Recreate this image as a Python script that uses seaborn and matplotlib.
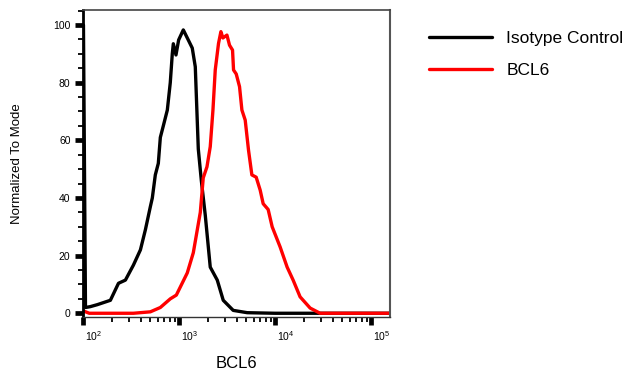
import numpy as np
import pandas as pd
import matplotlib
matplotlib.use("Agg")
import matplotlib.pyplot as plt
import matplotlib.ticker as mticker
from matplotlib.transforms import ScaledTranslation
import seaborn as sns

# =========================
# Data (read off the histogram overlay)
# =========================
iso_x = [100, 105, 118, 140, 191, 232, 274, 332, 393, 443, 499, 523, 562,
         604, 634, 681, 750, 805, 845, 866, 923, 984, 1101, 1241, 1365,
         1468, 1578, 1698, 1866, 2103, 2489, 2873, 3651, 5106, 10000, 157700]
iso_y = [100, 2, 2.3, 3, 4.5, 10.4, 11.5, 16.7, 22, 29, 37, 40, 48,
         52, 61, 65, 70.5, 80, 90, 93.5, 89.6, 94.8, 98.3, 94.8, 92,
         85.5, 57, 46, 34, 16, 11.5, 4.5, 1, 0.2, 0, 0]

bcl6_x = [100, 115, 332, 499, 634, 805, 931, 1211, 1400, 1656, 1778, 1943,
          2103, 2244, 2371, 2565, 2716, 2850, 3140, 3341, 3592, 3680, 3926,
          4250, 4498, 4870, 5272, 5715, 6340, 6980, 7499, 8451, 9306, 11270,
          13335, 15400, 18200, 23170, 29440, 157700]
bcl6_y = [0.8, 0, 0, 0.5, 2, 5, 6.3, 14, 21, 35, 47, 50.8,
          57.8, 70.5, 84.4, 93.6, 97.7, 95.5, 96.5, 93, 91.3, 84.4, 83,
          78.6, 70.5, 67, 56.6, 48, 47.2, 42.7, 38, 36, 30, 23,
          16, 11.5, 5.7, 1.8, 0, 0]

series_names = ["Isotype Control", "BCL6"]
series_colors = ["black", "red"]

x_ticks = [1e2, 1e3, 1e4, 1e5]
x_tick_labels = ["$10^{2}$", "$10^{3}$", "$10^{4}$", "$10^{5}$"]
y_ticks = [0, 20, 40, 60, 80, 100]

df = pd.concat([
    pd.DataFrame({"BCL6": iso_x, "pct": iso_y, "sample": series_names[0]}),
    pd.DataFrame({"BCL6": bcl6_x, "pct": bcl6_y, "sample": series_names[1]}),
], ignore_index=True)

# =========================
# Style
# =========================
sns.set_style("ticks")
plt.rcParams["font.family"] = ["Liberation Sans", "DejaVu Sans"]
plt.rcParams["mathtext.default"] = "regular"
plt.rcParams["text.color"] = "black"
plt.rcParams["axes.labelcolor"] = "black"
plt.rcParams["xtick.color"] = "black"
plt.rcParams["ytick.color"] = "black"

fig = plt.figure(figsize=(6.29, 3.85), dpi=100)
ax = fig.add_axes([0.132, 0.1766, 0.488, 0.7974])

sns.lineplot(
    data=df,
    x="BCL6",
    y="pct",
    hue="sample",
    palette=dict(zip(series_names, series_colors)),
    estimator=None,
    sort=False,
    linewidth=2.4,
    ax=ax
)

# =========================
# Axes
# =========================
ax.set_xscale("log")
ax.set_xlim(99, 157700)
ax.set_ylim(-1.3, 105.2)

ax.xaxis.set_major_locator(mticker.FixedLocator(x_ticks))
ax.set_xticklabels(x_tick_labels, ha="left")
ax.xaxis.set_minor_locator(mticker.LogLocator(base=10, subs=np.arange(2, 10)))
ax.xaxis.set_minor_formatter(mticker.NullFormatter())

ax.yaxis.set_major_locator(mticker.FixedLocator(y_ticks))
ax.yaxis.set_minor_locator(mticker.MultipleLocator(5))

ax.tick_params(axis="both", which="major", direction="out", width=3.4,
               length=6, labelsize=7.5, color="black", labelcolor="black",
               pad=3)
ax.tick_params(axis="both", which="minor", direction="out", width=1.3,
               length=3.5, color="black")

for lab in ax.get_xticklabels():
    lab.set_transform(lab.get_transform()
                      + ScaledTranslation(2 / 100, 0, fig.dpi_scale_trans))

ax.spines["left"].set_linewidth(2.0)
ax.spines["left"].set_color("black")
ax.spines["bottom"].set_linewidth(1.0)
ax.spines["bottom"].set_color("#333333")
ax.spines["top"].set_linewidth(1.2)
ax.spines["top"].set_color("#444444")
ax.spines["right"].set_linewidth(1.5)
ax.spines["right"].set_color("#555555")

ax.set_xlabel("BCL6", fontsize=12, labelpad=9, color="black")
ax.set_ylabel("Normalized To Mode", fontsize=9.5, color="black")
ax.yaxis.set_label_coords(-0.195, 0.5)

# =========================
# Legend outside on the right
# =========================
handles, labels = ax.get_legend_handles_labels()
ax.get_legend().remove()
leg = fig.legend(
    handles, labels,
    loc="upper left",
    bbox_to_anchor=(429 / 629, 1 - 31 / 385),
    frameon=False,
    fontsize=12.5,
    handlelength=3.6,
    handletextpad=0.85,
    labelspacing=0.95,
    borderpad=0,
    borderaxespad=0
)
for t in leg.get_texts():
    t.set_color("black")

plt.savefig("out.png", dpi=100)
